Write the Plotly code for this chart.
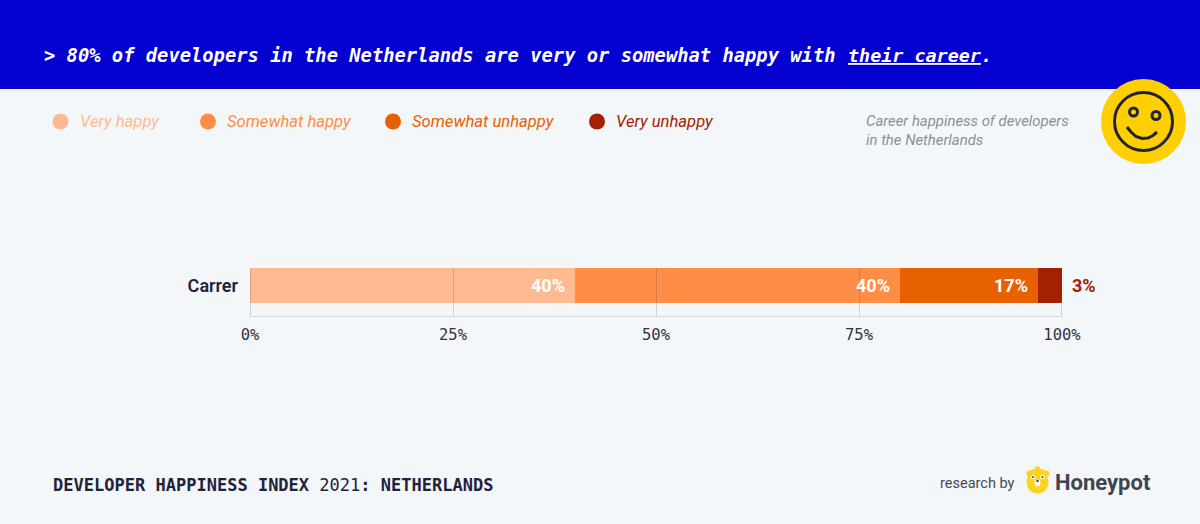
import plotly.graph_objects as go

categories = ["Carrer"]
series_names = ["Very happy", "Somewhat happy", "Somewhat unhappy", "Very unhappy"]
series_values = [40, 40, 17, 3]
series_colors = ["#FFBA91", "#FF8D45", "#E86100", "#A32100"]
tick_values = [0, 25, 50, 75, 100]
tick_labels = ["0%", "25%", "50%", "75%", "100%"]
title_lead = "> 80% of developers in the Netherlands are very or somewhat happy with"
title_tail = "<u>their career</u>."
note_html = "Career happiness of developers<br>in the Netherlands"
footer_html = "<b>DEVELOPER HAPPINESS INDEX</b> 2021<b>: NETHERLANDS</b>"

W, H = 1200, 524
L, R, T, B = 250, 1062, 255, 316
BG = "#F4F7FA"
INK = "#22223A"
MONO = "DejaVu Sans Mono"
SANS = "Roboto"
ONE_PX = 100 / (R - L)


def px(x):
    return (x - L) / (R - L)


def py(y):
    return (B - y) / (B - T)


def circle(cx, cy, r, fill, line=None, lw=0, ry=None):
    ry = r if ry is None else ry
    return dict(type="circle", xref="paper", yref="paper",
                x0=px(cx - r), x1=px(cx + r), y0=py(cy + ry), y1=py(cy - ry),
                fillcolor=fill, line=dict(color=line or fill, width=lw), layer="above")


def path(points, color, lw, fill="rgba(0,0,0,0)"):
    d = "M " + " L ".join(f"{px(x):.5f},{py(y):.5f}" for x, y in points)
    return dict(type="path", xref="paper", yref="paper", path=d,
                fillcolor=fill, line=dict(color=color, width=lw), layer="above")


def label(x, y, text, size, color, family=SANS, anchor="left", **kw):
    return dict(xref="paper", yref="paper", x=px(x), y=py(y), text=text, showarrow=False,
                xanchor=anchor, yanchor="middle", align="left",
                font=dict(size=size, color=color, family=family), **kw)


fig = go.Figure()
for name, value, color in zip(series_names, series_values, series_colors):
    fig.add_trace(go.Bar(x=[value], y=categories, name=name, orientation="h",
                         marker=dict(color=color, line=dict(width=0)), hoverinfo="skip", showlegend=False))

shapes = [
    dict(type="rect", xref="paper", yref="paper", x0=px(0), x1=px(W), y0=py(89), y1=py(0),
         fillcolor="#0400D0", line=dict(width=0), layer="below"),
]
for t in tick_values:
    x0 = min(t, 100 - ONE_PX)
    shapes.append(dict(type="rect", xref="x", yref="paper", x0=x0, x1=x0 + ONE_PX, y0=0, y1=py(268),
                       fillcolor="rgba(60,60,80,0.2)", line=dict(width=0), layer="above"))

annotations = [
    label(42, 55, f"<b><i>{title_lead}</i></b>", 18.8, "#FFFFFF", MONO),
    label(846, 55, f"<b><i>{title_tail}</i></b>", 18.4, "#FFFFFF", MONO),
    label(864, 130, f"<i>{note_html}</i>", 14.9, "#8C8F96"),
    label(51, 484.5, footer_html, 17.03, INK, MONO),
    label(938, 483, "research by", 14.5, "#454B54"),
    label(1053, 482.5, "<b>Honeypot</b>", 22, "#3F454D"),
]

legend_dots = [60.5, 208, 393, 597]
legend_text = [77.5, 225, 410, 614]
for dx, tx, name, color in zip(legend_dots, legend_text, series_names, series_colors):
    shapes.append(circle(dx, 121.5, 8, color))
    annotations.append(label(tx, 121.5, f"<i>{name}</i>", 16.6, color))

cum = 0
for i, (value, color) in enumerate(zip(series_values, series_colors)):
    cum += value
    if i < 3:
        annotations.append(dict(x=cum, y=categories[0], xref="x", yref="y", text=f"<b>{value}%</b>",
                                showarrow=False, xanchor="right", xshift=-8, yanchor="middle",
                                font=dict(size=18, color="#FFFFFF", family=SANS)))
    else:
        annotations.append(dict(x=cum, y=categories[0], xref="x", yref="y", text=f"<b>{value}%</b>",
                                showarrow=False, xanchor="left", xshift=8, yanchor="middle",
                                font=dict(size=18, color=color, family=SANS)))

# smiley badge
shapes += [
    circle(1143.5, 121.5, 42.5, "#FFCF00"),
    circle(1143.5, 121.5, 29, "rgba(0,0,0,0)", INK, 3),
    circle(1133.5, 112, 4, "rgba(0,0,0,0)", INK, 3),
    circle(1156, 115.5, 4, "rgba(0,0,0,0)", INK, 3),
    path([(1127, 127), (1131, 132), (1136, 136.5), (1142, 138.5), (1148, 138), (1153, 135.5), (1157, 132)], INK, 3),
]

# Honeypot bear mark
bear = "#FFD21F"
shapes += [
    circle(1037.5, 482, 11, bear, ry=11.5),
    circle(1029.5, 473.5, 3, bear),
    circle(1046.5, 473.5, 3, bear),
    circle(1037.5, 468.5, 2.5, bear),
    circle(1037.5, 472, 8, bear, ry=3.5),
    circle(1033, 477, 2.3, "#FFFFFF"),
    circle(1042.5, 477, 2.3, "#FFFFFF"),
    circle(1033, 477, 1, "#3F454D"),
    circle(1042.5, 477, 1, "#3F454D"),
    circle(1037.5, 483, 3, "#FFFFFF", ry=3.5),
    circle(1037.5, 481, 1.2, "#3F454D"),
]

fig.update_layout(
    width=W, height=H, autosize=False,
    margin=dict(l=L, r=W - R, t=T, b=H - B),
    paper_bgcolor=BG, plot_bgcolor=BG,
    barmode="stack", bargap=1 - 35 / 61,
    shapes=shapes, annotations=annotations,
    xaxis=dict(range=[0, 100], tickvals=tick_values, ticktext=tick_labels, ticks="",
               showgrid=False, zeroline=False, showline=True, linecolor="#D5D8DE", linewidth=1,
               ticklabelstandoff=4, tickfont=dict(size=15.5, color="#33333F", family=MONO)),
    yaxis=dict(showgrid=False, zeroline=False, showline=False, ticks="", ticklabelstandoff=11,
               tickfont=dict(size=18, color=INK, family=SANS, weight=600)),
)
fig.write_html("out.html", config=dict(displayModeBar=False),
               post_script="document.body.style.margin='0';document.body.style.background='#F4F7FA';")
